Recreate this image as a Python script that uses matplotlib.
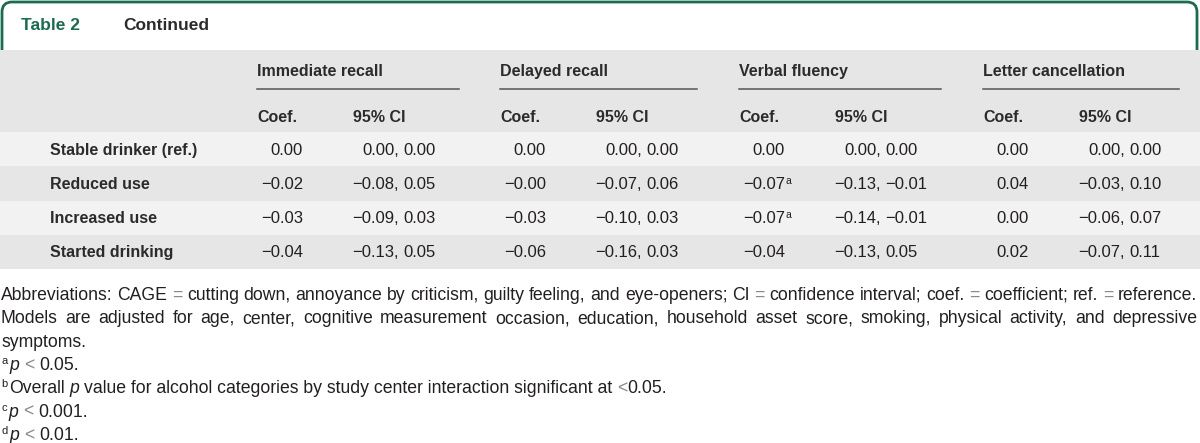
import matplotlib.pyplot as plt
from matplotlib.patches import FancyBboxPatch, Rectangle

plt.rcParams['font.family'] = ['Liberation Sans', 'DejaVu Sans']

# table content
rows = ["Stable drinker (ref.)", "Reduced use", "Increased use", "Started drinking"]
groups = ["Immediate recall", "Delayed recall", "Verbal fluency", "Letter cancellation"]

coef_immediate = [0.00, -0.02, -0.03, -0.04]
lo_immediate = [0.00, -0.08, -0.09, -0.13]
hi_immediate = [0.00, 0.05, 0.03, 0.05]

coef_delayed = [0.00, -0.00, -0.03, -0.06]
lo_delayed = [0.00, -0.07, -0.10, -0.16]
hi_delayed = [0.00, 0.06, 0.03, 0.03]

coef_verbal = [0.00, -0.07, -0.07, -0.04]
lo_verbal = [0.00, -0.13, -0.14, -0.13]
hi_verbal = [0.00, -0.01, -0.01, 0.05]
mark_verbal = ["", "a", "a", ""]

coef_letter = [0.00, 0.04, 0.00, 0.02]
lo_letter = [0.00, -0.03, -0.06, -0.07]
hi_letter = [0.00, 0.10, 0.07, 0.11]

no_marks = ["", "", "", ""]
columns = [
    (coef_immediate, lo_immediate, hi_immediate, no_marks),
    (coef_delayed, lo_delayed, hi_delayed, no_marks),
    (coef_verbal, lo_verbal, hi_verbal, mark_verbal),
    (coef_letter, lo_letter, hi_letter, no_marks),
]

note_abbrev = ("Abbreviations: CAGE = cutting down, annoyance by criticism, guilty feeling, "
               "and eye-openers; CI = confidence interval; coef. = coefficient; ref. = reference.")
note_models = ("Models are adjusted for age, center, cognitive measurement occasion, education, "
               "household asset score, smoking, physical activity, and depressive")
note_models_end = "symptoms."
footnotes = [
    ("a", ["", "p", "< 0.05."]),
    ("b", ["Overall", "p", "value for alcohol categories by study center interaction significant at <0.05."]),
    ("c", ["", "p", "< 0.001."]),
    ("d", ["", "p", "< 0.01."]),
]

GREEN = "#1c6b4e"
TXT = "#231f20"
HEAD = "#2b2b2b"
GREY_SIGN = "#8a8a8a"
FS = 12
FS_HEAD = 11.5
FS_NOTE = 12.7

fig = plt.figure(figsize=(12, 4.43), dpi=100)
ax = fig.add_axes([0, 0, 1, 1])
ax.set_xlim(0, 1200)
ax.set_ylim(443, 0)
ax.axis("off")
renderer = fig.canvas.get_renderer()


def width(s, **kw):
    t = ax.text(0, 0, s, **kw)
    w = t.get_window_extent(renderer).width
    t.remove()
    return w


def space(**kw):
    return width("n n", **kw) - width("nn", **kw)


# green tab frame and backgrounds
ax.add_patch(FancyBboxPatch((2, 2), 1195, 90, boxstyle="round,pad=0,rounding_size=10",
                            fc="white", ec=GREEN, lw=2, zorder=1))
ax.add_patch(Rectangle((0, 50), 1200, 82, fc="#e6e6e6", ec="none", zorder=2))
row_top = 132
row_h = 34.25
for i in range(len(rows)):
    fc = "#f2f2f2" if i % 2 == 0 else "#e6e6e6"
    ax.add_patch(Rectangle((0, row_top + i * row_h), 1200, row_h, fc=fc, ec="none", zorder=2))

ax.text(21, 30, "Table 2", color=GREEN, fontsize=12.5, fontweight="bold", zorder=3)
ax.text(123, 30, "Continued", color=HEAD, fontsize=12.5, fontweight="bold", zorder=3)

group_x = [257, 500, 739, 983]
rule_end = [459, 697, 941, 1179]
ci_dx = 96
coef_dx = 46
comma_dx = 142

bold = dict(fontsize=FS_HEAD, fontweight="bold", color=HEAD, zorder=3)
norm = dict(fontsize=FS, color=TXT, zorder=3)

for g, name in enumerate(groups):
    gx = group_x[g]
    ax.text(gx, 76, name, va="baseline", **bold)
    ax.plot([gx, rule_end[g]], [89, 89], color="#555555", lw=1.1, zorder=3)
    ax.text(gx, 122, "Coef.", va="baseline", **bold)
    ax.text(gx + ci_dx, 122, "95% CI", va="baseline", **bold)


def fmt(v):
    return f"{v:.2f}".replace("-", "\u2212")


for i, label in enumerate(rows):
    base = row_top + i * row_h + row_h / 2 + 5.5
    ax.text(50, base, label, va="baseline", **bold)
    for g, (coef, lo, hi, marks) in enumerate(columns):
        gx = group_x[g]
        ax.text(gx + coef_dx, base, fmt(coef[i]), ha="right", va="baseline", **norm)
        if marks[i]:
            ax.text(gx + coef_dx + 0.5, base - 5, marks[i], fontsize=7.5, color=TXT,
                    va="baseline", zorder=3)
        cx = gx + comma_dx
        ax.text(cx, base, fmt(lo[i]) + ",", ha="right", va="baseline", **norm)
        ax.text(cx + space(**norm), base, fmt(hi[i]), ha="left", va="baseline", **norm)

# footnotes
note = dict(fontsize=FS_NOTE, color=TXT, zorder=3)
grey = dict(fontsize=FS_NOTE, color=GREY_SIGN, zorder=3)


def justify(y, text, left=1, right=1197):
    words = text.split(" ")
    styles = [grey if w in ("=", "<") else note for w in words]
    widths = [width(w, **st) for w, st in zip(words, styles)]
    gap = (right - left - sum(widths)) / (len(words) - 1)
    x = left
    for w, st, wd in zip(words, styles, widths):
        ax.text(x, y, w, va="baseline", **st)
        x += wd + gap


line_y = [300, 323.3, 346.7, 370, 393.3, 416.7, 440]
justify(line_y[0], note_abbrev)
justify(line_y[1], note_models)
ax.text(1, line_y[2], note_models_end, va="baseline", **note)

sp = space(**note)
for k, (sup, (before, italic, after)) in enumerate(footnotes):
    y = line_y[3 + k]
    x = 1
    ax.text(x, y - 6, sup, fontsize=8, color=TXT, va="baseline", zorder=3)
    x += width(sup, fontsize=8) + 2
    if before:
        ax.text(x, y, before, va="baseline", **note)
        x += width(before, **note) + sp
    ax.text(x, y, italic, style="italic", va="baseline", **note)
    x += width(italic, style="italic", **note) + sp
    parts = after.split("<")
    ax.text(x, y, parts[0], va="baseline", **note)
    x += width(parts[0], **note) if parts[0] else 0
    ax.text(x, y, "<", va="baseline", **grey)
    x += width("<", **grey)
    tail = parts[1]
    if tail.startswith(" "):
        x += sp
        tail = tail[1:]
    ax.text(x, y, tail, va="baseline", **note)

fig.savefig("out.png", dpi=100)
